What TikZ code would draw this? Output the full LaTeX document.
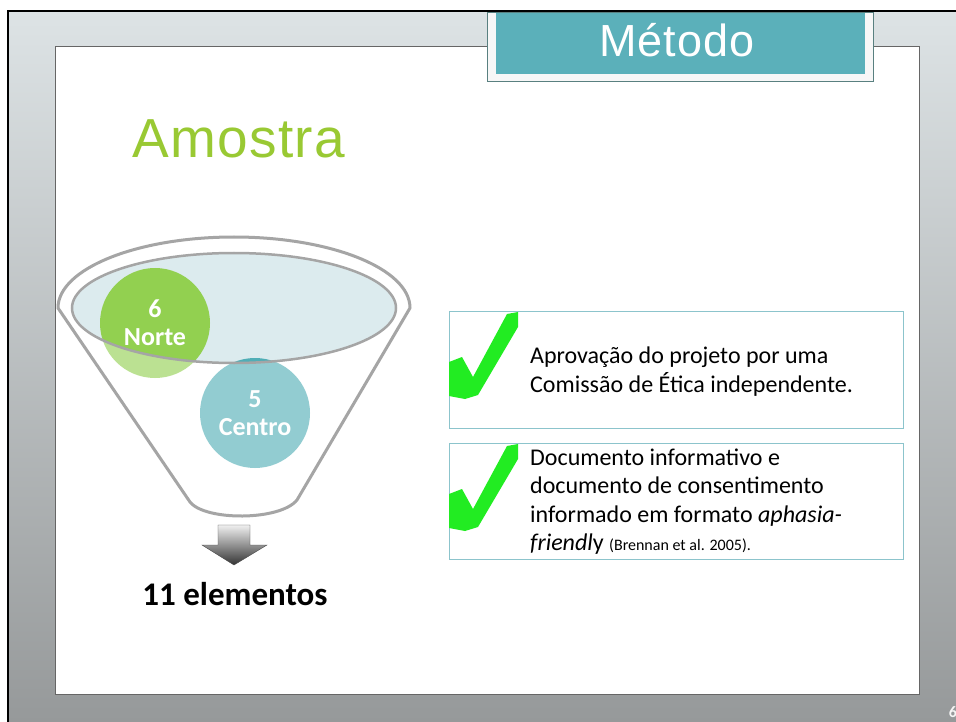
\documentclass[tikz,border=0pt]{standalone}
\usepackage{fontspec}
\setmainfont{Carlito}
\newfontfamily\headfont{Liberation Sans}[LetterSpace=2.5]
\usetikzlibrary{positioning}

\definecolor{tabteal}{RGB}{91,176,186}
\definecolor{headgreen}{RGB}{153,201,51}
\definecolor{nortegreen}{RGB}{146,208,80}
\definecolor{centroteal}{RGB}{80,174,182}
\definecolor{glassblue}{RGB}{220,235,238}
\definecolor{funnelgray}{RGB}{165,165,165}
\definecolor{boxline}{RGB}{140,196,204}
\definecolor{tickgreen}{RGB}{34,236,34}
\definecolor{bgtop}{RGB}{221,227,229}
\definecolor{bgbottom}{RGB}{150,153,154}

\begin{document}
\begin{tikzpicture}[x=1pt, y=-1pt,
    line/.style = {anchor=base west, inner sep=0pt, font=\fontsize{24}{29}\selectfont},
    bubble/.style = {circle, minimum size=110pt, inner sep=0pt, text=white, align=center,
                     font=\bfseries\fontsize{26}{28}\selectfont},
    okbox/.style = {draw=boxline, line width=1pt, anchor=north west, minimum width=454pt,
                    minimum height=117pt, inner sep=0pt},
    tick/.style = {fill=tickgreen, draw=none}]

    \useasboundingbox (0,0) rectangle (956,722);
    % slide frame
    \fill[white] (0,0) rectangle (956,722);
    \shade[top color=bgtop, bottom color=bgbottom] (8,11) rectangle (956,722);
    \draw[black, line width=2pt] (8,722) -- (8,11) -- (956,11);
    \fill[white, draw=gray!80!black] (55,46) rectangle (919,694);

    % title tab
    \fill[gray!6, draw=gray!70!teal, line width=1pt] (487,13) rectangle (873,82);
    \fill[tabteal] (496,13) rectangle (865,74);
    \node[anchor=base, text=white, inner sep=0pt, font=\headfont\fontsize{45}{45}\selectfont] (title) at (677,57) {Método};
    \node[anchor=base west, text=headgreen, inner sep=0pt, font=\headfont\fontsize{55}{55}\selectfont] (amostra) at (132,158) {Amostra};

    % funnel
    \fill[glassblue] (234,308) ellipse[x radius=162, y radius=55];
    \node[bubble, fill=nortegreen] (norte) at (155,323) {6\\Norte};
    \node[bubble, fill=centroteal] (centro) at (255,413) {5\\Centro};
    \begin{scope}
        \clip (58,308) arc[start angle=180, end angle=360, x radius=176, y radius=71]
            -- (297,500) .. controls (280,521) and (205,521) .. (190,502) -- cycle;
        \fill[white, opacity=.38, even odd rule] (0,0) rectangle (956,722)
            (234,308) ellipse[x radius=162, y radius=55];
    \end{scope}
    \draw[funnelgray, line width=3pt, line join=round] (58,308) arc[start angle=180, end angle=360, x radius=176, y radius=71]
        -- (297,500) .. controls (280,521) and (205,521) .. (190,502) -- cycle;
    \draw[funnelgray, line width=2.5pt] (234,308) ellipse[x radius=162, y radius=55];

    % result
    \shade[top color=gray!12, bottom color=black!80, draw=gray!60!black]
        (218,525) -- (250,525) -- (250,545) -- (267,545) -- (234,565) -- (202,545) -- (218,545) -- cycle;
    \coordinate (tip) at (234,565);
    \node[anchor=base, inner sep=0pt, font=\bfseries\fontsize{33}{33}\selectfont] (total) at (235,605) {11 elementos};

    % approval boxes
    \node[okbox] (box1) at (449,311) {};
    \node[okbox, minimum height=116pt] (box2) at (449,443) {};
    \fill[tick] (449,362) -- (462,357) -- (473,377) -- (507,314) -- (518,312) -- (518,327)
        -- (478,395) -- (465,399) -- (449,396) -- cycle;
    \begin{scope}[shift={(0,132)}]
        \fill[tick] (449,362) -- (462,357) -- (473,377) -- (507,314) -- (518,312) -- (518,327)
            -- (478,395) -- (465,399) -- (449,396) -- cycle;
    \end{scope}

    \node[line] (a1) at (530,363) {Aprovação do projeto por uma};
    \node[line] (a2) at (530,392) {Comissão de Ética independente.};
    \node[line] (b1) at (530,465) {Documento informativo e};
    \node[line] (b2) at (530,493) {documento de consentimento};
    \node[line] (b3) at (530,522) {informado em formato \textit{aphasia-}};
    \node[line] (b4) at (530,550) {\textit{friendl}y {\fontsize{16}{16}\selectfont (Brennan et al. 2005).}};

    % page number
    \node[anchor=base, text=white!92!gray, inner sep=0pt, font=\bfseries\fontsize{16}{16}\selectfont] (page) at (953,717) {6};
\end{tikzpicture}
\end{document}
